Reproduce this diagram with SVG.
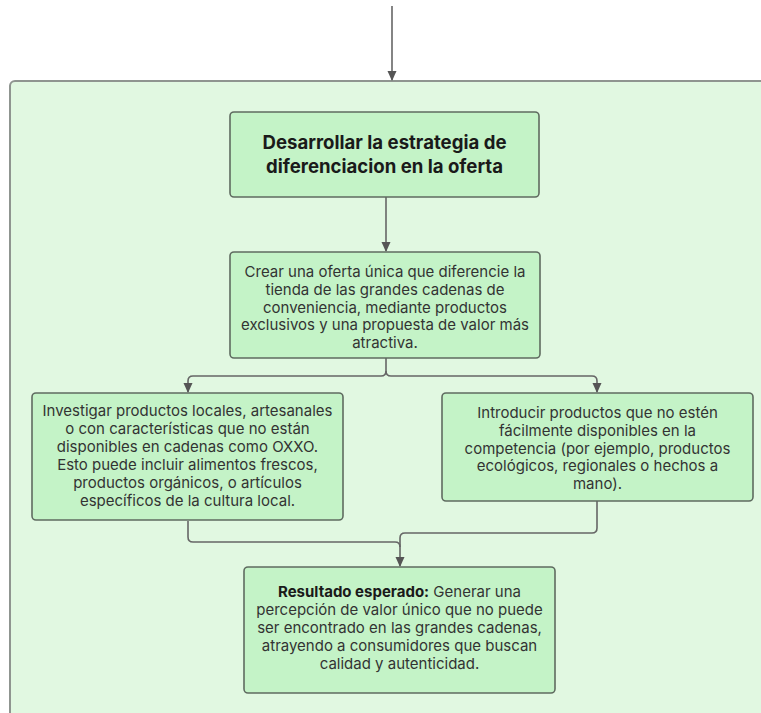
<svg xmlns="http://www.w3.org/2000/svg" width="761" height="713" viewBox="0 0 761 713">
<defs>
<marker id="ah" markerWidth="10" markerHeight="11" refX="9" refY="5" orient="auto" markerUnits="userSpaceOnUse">
<path d="M0,0.5 L10,5 L0,9.5 Z" fill="#555"/>
</marker>
<style>
.box{fill:#c4f3c7;stroke:#5f6b60;stroke-width:1.6}
.t{font-family:Inter,"Liberation Sans",sans-serif;font-size:15px;fill:#333;text-anchor:middle}
.h{font-family:Inter,"Liberation Sans",sans-serif;font-size:18.6px;font-weight:700;fill:#1a1a1a;text-anchor:middle}
.c{fill:none;stroke:#666;stroke-width:1.6}
</style>
</defs>
<rect x="10" y="81" width="770" height="660" rx="5" fill="#e1f8e1" stroke="#8f9590" stroke-width="2"/>
<g id="connectors">
<path class="c" d="M392,6 V80" marker-end="url(#ah)"/>
<path class="c" d="M386,197 V251" marker-end="url(#ah)"/>
<path class="c" d="M386,358 V371 Q386,376 381,376 H193 Q188,376 188,381 V392" marker-end="url(#ah)"/>
<path class="c" d="M386,371 Q386,376 391,376 H592 Q597,376 597,381 V392" marker-end="url(#ah)"/>
<path class="c" d="M188,521 V537 Q188,542 193,542 H395 Q400,542 400,547 V566" marker-end="url(#ah)"/>
<path class="c" d="M597,501 V528 Q597,533 592,533 H405 Q400,533 400,538 V547"/>
</g>
<g id="n1">
<rect class="box" x="230" y="112" width="309" height="85" rx="4"/>
<text class="h" x="384.5" y="149">Desarrollar la estrategia de</text>
<text class="h" x="384.5" y="173">diferenciacion en la oferta</text>
</g>
<g id="n2">
<rect class="box" x="230" y="252" width="310" height="106" rx="4"/>
<text class="t" x="385" y="277">Crear una oferta única que diferencie la</text>
<text class="t" x="385" y="295">tienda de las grandes cadenas de</text>
<text class="t" x="385" y="312.5">conveniencia, mediante productos</text>
<text class="t" x="385" y="330">exclusivos y una propuesta de valor más</text>
<text class="t" x="385" y="348">atractiva.</text>
</g>
<g id="n3">
<rect class="box" x="32" y="393" width="311" height="127" rx="4"/>
<text class="t" x="187.5" y="416">Investigar productos locales, artesanales</text>
<text class="t" x="187.5" y="434">o con características que no están</text>
<text class="t" x="187.5" y="452">disponibles en cadenas como OXXO.</text>
<text class="t" x="187.5" y="470">Esto puede incluir alimentos frescos,</text>
<text class="t" x="187.5" y="488">productos orgánicos, o artículos</text>
<text class="t" x="187.5" y="506">específicos de la cultura local.</text>
</g>
<g id="n4">
<rect class="box" x="442" y="393" width="311" height="108" rx="4"/>
<text class="t" x="597.5" y="418">Introducir productos que no estén</text>
<text class="t" x="597.5" y="436">fácilmente disponibles en la</text>
<text class="t" x="597.5" y="453.5">competencia (por ejemplo, productos</text>
<text class="t" x="597.5" y="471">ecológicos, regionales o hechos a</text>
<text class="t" x="597.5" y="489">mano).</text>
</g>
<g id="n5">
<rect class="box" x="244" y="567" width="311" height="126" rx="4"/>
<text class="t" x="399.5" y="597"><tspan font-weight="700" fill="#1a1a1a">Resultado esperado:</tspan> Generar una</text>
<text class="t" x="399.5" y="615">percepción de valor único que no puede</text>
<text class="t" x="399.5" y="633">ser encontrado en las grandes cadenas,</text>
<text class="t" x="399.5" y="651">atrayendo a consumidores que buscan</text>
<text class="t" x="399.5" y="668.5">calidad y autenticidad.</text>
</g>
</svg>
